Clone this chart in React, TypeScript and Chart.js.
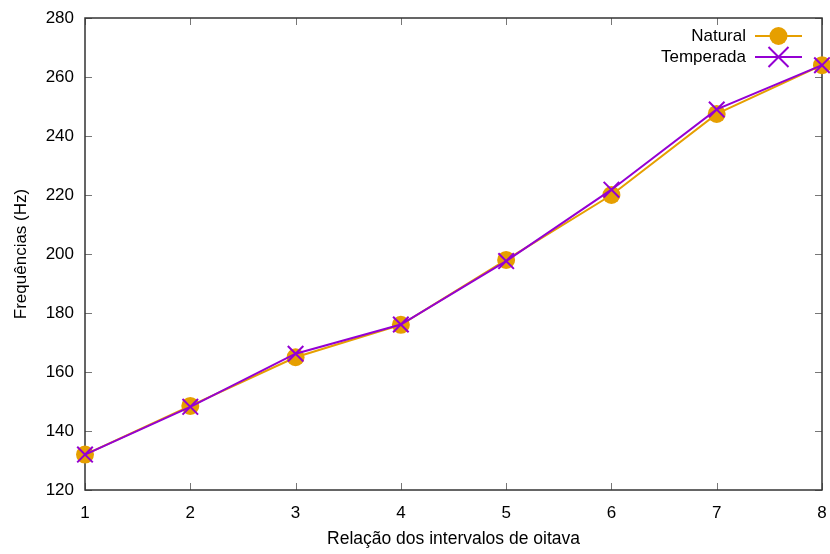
import React, { useEffect, useRef } from "react";
import { Chart, registerables } from "chart.js";

Chart.register(...registerables);

const intervals = [1, 2, 3, 4, 5, 6, 7, 8];
const natural = [132, 148.5, 165, 176, 198, 220, 247.5, 264];
const temperada = [132, 148.2, 166.2, 176.1, 197.6, 221.8, 249.0, 264];
const seriesNames = ["Natural", "Temperada"];
const xTitle = "Relação dos intervalos de oitava";
const yTitle = "Frequências (Hz)";

const ORANGE = "#E69F00";
const PURPLE = "#9400D3";
const FONT = "'Liberation Sans', Arial, sans-serif";

const framePlugin = {
  id: "frame",
  beforeDatasetsDraw(chart: any) {
    const { ctx, chartArea: a, scales } = chart;
    ctx.save();
    ctx.strokeStyle = "#777";
    ctx.lineWidth = 1;
    const tl = 7;
    ctx.beginPath();
    scales.x.ticks.forEach((t: any) => {
      const px = Math.round(scales.x.getPixelForValue(t.value)) + 0.5;
      ctx.moveTo(px, a.bottom);
      ctx.lineTo(px, a.bottom - tl);
      ctx.moveTo(px, a.top);
      ctx.lineTo(px, a.top + tl);
    });
    scales.y.ticks.forEach((t: any) => {
      const py = Math.round(scales.y.getPixelForValue(t.value)) + 0.5;
      ctx.moveTo(a.left, py);
      ctx.lineTo(a.left + tl, py);
      ctx.moveTo(a.right, py);
      ctx.lineTo(a.right - tl, py);
    });
    ctx.stroke();
    ctx.strokeStyle = "#333";
    ctx.lineWidth = 1.5;
    ctx.strokeRect(a.left, a.top, a.right - a.left, a.bottom - a.top);
    ctx.restore();
  },
  afterDraw(chart: any) {
    const { ctx, chartArea: a } = chart;
    ctx.save();
    ctx.font = `17px ${FONT}`;
    ctx.textAlign = "right";
    ctx.textBaseline = "middle";
    const textRight = 746;
    const lx0 = 755;
    const lx1 = 802;
    const cx = (lx0 + lx1) / 2;
    const rows = [a.top + 18, a.top + 39];
    // Natural
    ctx.fillStyle = "#000";
    ctx.fillText(seriesNames[0], textRight, rows[0]);
    ctx.strokeStyle = ORANGE;
    ctx.lineWidth = 2;
    ctx.beginPath();
    ctx.moveTo(lx0, rows[0]);
    ctx.lineTo(lx1, rows[0]);
    ctx.stroke();
    ctx.fillStyle = ORANGE;
    ctx.beginPath();
    ctx.arc(cx, rows[0], 9, 0, Math.PI * 2);
    ctx.fill();
    // Temperada
    ctx.fillStyle = "#000";
    ctx.fillText(seriesNames[1], textRight, rows[1]);
    ctx.strokeStyle = PURPLE;
    ctx.beginPath();
    ctx.moveTo(lx0, rows[1]);
    ctx.lineTo(lx1, rows[1]);
    const r = 10;
    ctx.moveTo(cx - r, rows[1] - r);
    ctx.lineTo(cx + r, rows[1] + r);
    ctx.moveTo(cx - r, rows[1] + r);
    ctx.lineTo(cx + r, rows[1] - r);
    ctx.stroke();
    ctx.restore();
  },
};

export default function App() {
  const ref = useRef<HTMLCanvasElement>(null);
  useEffect(() => {
    document.body.style.margin = "0";
    const chart = new Chart(ref.current!, {
      type: "line",
      data: {
        datasets: [
          {
            label: seriesNames[0],
            data: intervals.map((x, i) => ({ x, y: natural[i] })),
            borderColor: ORANGE,
            backgroundColor: ORANGE,
            borderWidth: 2,
            pointStyle: "circle",
            pointRadius: 9,
            pointBorderWidth: 0,
            pointBackgroundColor: ORANGE,
            clip: false as any,
            order: 2,
          },
          {
            label: seriesNames[1],
            data: intervals.map((x, i) => ({ x, y: temperada[i] })),
            borderColor: PURPLE,
            backgroundColor: PURPLE,
            borderWidth: 2,
            pointStyle: "crossRot",
            pointRadius: 11,
            pointBorderWidth: 2,
            pointBorderColor: PURPLE,
            clip: false as any,
            order: 1,
          },
        ],
      },
      options: {
        animation: false,
        responsive: false,
        layout: { autoPadding: false, padding: { top: 18, right: 8, left: 0, bottom: 0 } },
        plugins: { legend: { display: false }, tooltip: { enabled: false } },
        scales: {
          x: {
            type: "linear",
            min: 1,
            max: 8,
            ticks: { stepSize: 1, color: "#000", font: { family: FONT, size: 17 }, padding: 13 },
            grid: { display: false, drawTicks: false },
            border: { display: false },
            title: {
              display: true,
              text: xTitle,
              color: "#000",
              font: { family: FONT, size: 17.5 },
              padding: { top: 4, bottom: 4 },
            },
            afterFit(s: any) {
              s.height = 64;
              s.paddingLeft = 0;
              s.paddingRight = 0;
            },
          },
          y: {
            min: 120,
            max: 280,
            ticks: { stepSize: 20, color: "#000", font: { family: FONT, size: 17 }, padding: 11 },
            grid: { display: false, drawTicks: false },
            border: { display: false },
            title: {
              display: true,
              text: yTitle,
              color: "#000",
              font: { family: FONT, size: 17 },
              padding: { top: 11, bottom: 4 },
            },
            afterFit(s: any) {
              s.width = 85;
              s.paddingTop = 0;
              s.paddingBottom = 0;
            },
          },
        },
      },
      plugins: [framePlugin],
    });
    return () => chart.destroy();
  }, []);
  return <canvas ref={ref} width={830} height={554} style={{ display: "block" }} />;
}
